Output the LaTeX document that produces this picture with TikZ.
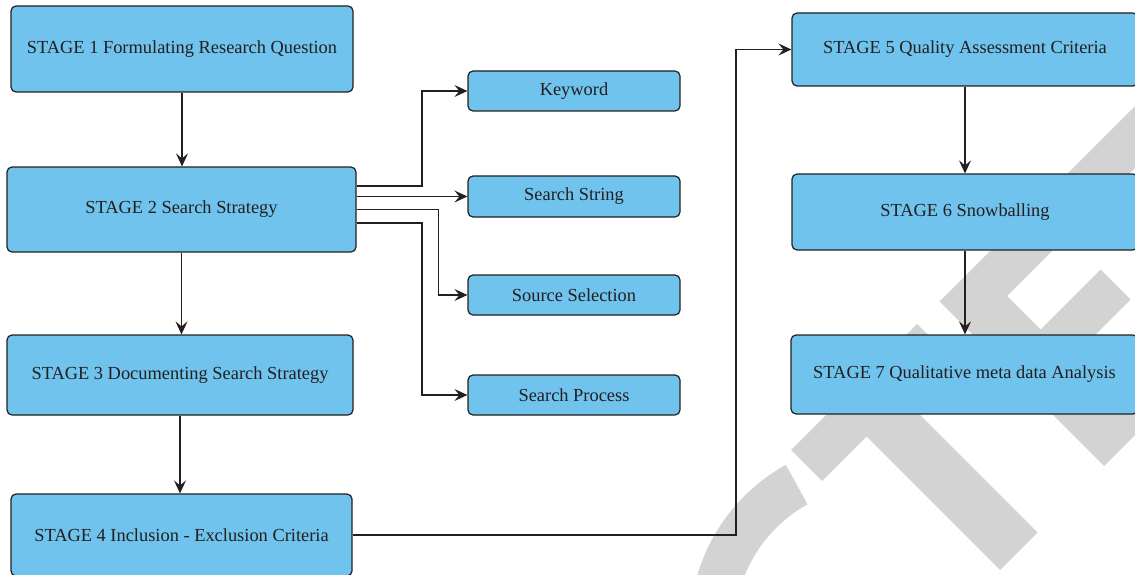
\documentclass[tikz,border=0pt]{standalone}
\usepackage{fontspec}
\setmainfont{Liberation Serif}
\usetikzlibrary{arrows.meta,calc}
\definecolor{boxfill}{RGB}{111,195,237}
\definecolor{inkc}{RGB}{35,31,32}
\definecolor{wmgrey}{RGB}{211,211,211}
\tikzset{
  stagebox/.style={draw=inkc, line width=1.2pt, fill=boxfill, rounded corners=5pt,
    text=inkc, font=\fontsize{18.4}{22}\selectfont, inner sep=0pt},
  flow/.style={draw=inkc, line width=1.2pt,
    -{Stealth[length=13pt,width=12pt,inset=5pt]}},
  wm/.style={fill=wmgrey}
}
\begin{document}
\begin{tikzpicture}[x=1pt,y=-1pt]
\useasboundingbox (0,0) rectangle (1135,575);
\clip (0,0) rectangle (1135,575);

% grey stamp lettering in the background
\begin{scope}
  \clip (682.3,276.5) -- (1067.7,977.5) -- (600,1000) -- (500,276.5) -- cycle;
  \fill[wm, even odd rule] (875,627) circle[radius=185] (875,627) circle[radius=140];
\end{scope}
\fill[wm] (791,450) -- (822,481) -- (866.5,436.5) -- (1000,570) -- (1037.5,532.5)
  -- (904,399) -- (948,355) -- (917,324) -- cycle;
\fill[wm] (939.5,301.5) -- (1104,466) -- (1235,335) -- (1204,304) -- (1109.5,398.5)
  -- (1070.5,359.5) -- (1130.5,299.5) -- (1100.5,269.5) -- (1040.5,329.5)
  -- (1007,296) -- (1251.5,51.5) -- (1220.5,20.5) -- cycle;

% stages, left column
\node[stagebox, minimum width=342pt, minimum height=86pt] (s1) at (182,49)
  {STAGE 1 Formulating Research Question};
\node[stagebox, minimum width=349pt, minimum height=85pt] (s2) at (181.5,209.5)
  {STAGE 2 Search Strategy};
\node[stagebox, minimum width=346pt, minimum height=80pt] (s3) at (180,375)
  {STAGE 3 Documenting Search Strategy};
\node[stagebox, minimum width=341pt, minimum height=82pt] (s4) at (181.5,535)
  {STAGE 4 Inclusion - Exclusion Criteria};

% search strategy parts
\node[stagebox, minimum width=212pt, minimum height=40pt] (kw) at (574,91) {Keyword};
\node[stagebox, minimum width=212pt, minimum height=41pt] (ss) at (574,196.5) {Search String};
\node[stagebox, minimum width=212pt, minimum height=40pt] (sel) at (574,295) {Source Selection};
\node[stagebox, minimum width=212pt, minimum height=40pt] (proc) at (574,395) {Search Process};

% stages, right column
\node[stagebox, minimum width=346pt, minimum height=73pt] (s5) at (965,49.5)
  {STAGE 5 Quality Assessment Criteria};
\node[stagebox, minimum width=346pt, minimum height=76pt] (s6) at (965,212)
  {STAGE 6 Snowballing};
\node[stagebox, minimum width=347pt, minimum height=79pt] (s7) at (964.5,374.5)
  {STAGE 7 Qualitative meta data Analysis};

% connectors
\coordinate (j1) at (422,0);
\coordinate (j2) at (438.7,0);
\coordinate (j3) at (736,0);

\draw[flow] (s1.south) -- (s1.south |- s2.north);
\draw[flow] (s2.south) -- (s2.south |- s3.north);
\draw[flow] (s3.south) -- (s3.south |- s4.north);
\draw[flow] (s5.south) -- (s5.south |- s6.north);
\draw[flow] (s6.south) -- (s6.south |- s7.north);

\draw[flow] ($(s2.east)+(0,-23.5)$) -| (j1 |- kw.west) -- (kw.west);
\draw[flow] (s2.east |- ss.west) -- (ss.west);
\draw[flow] (s2.east) -| (j2 |- sel.west) -- (sel.west);
\draw[flow] ($(s2.east)+(0,13.5)$) -| (j1 |- proc.west) -- (proc.west);

\draw[flow] (s4.east) -| (j3 |- s5.west) -- (s5.west);
\end{tikzpicture}
\end{document}
